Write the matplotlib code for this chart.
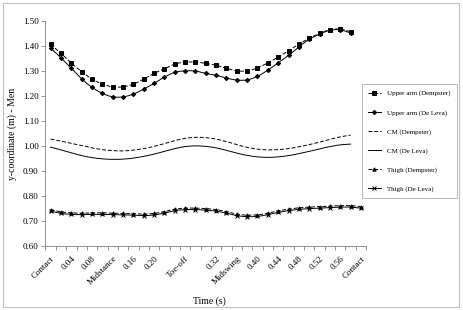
import numpy as np
import matplotlib
matplotlib.use('Agg')
import matplotlib.pyplot as plt
from matplotlib.patches import Rectangle

plt.rcParams['font.family'] = ['Liberation Serif', 'DejaVu Serif']

# categories: 0.00 .. 0.60 s, step 0.02 (31 categories)
tick_pos = [0, 2, 4, 6, 8, 10, 13, 16, 18, 20, 22, 24, 26, 28, 30]
tick_labels = ['Contact', '0.04', '0.08', 'Midstance', '0.16', '0.20', 'Toe-off',
               '0.32', 'Midswing', '0.40', '0.44', '0.48', '0.52', '0.56', 'Contact']
n_cat = 31

arm_dempster = [1.407, 1.371, 1.332, 1.298, 1.268, 1.248, 1.237, 1.237, 1.248, 1.268,
                1.291, 1.309, 1.328, 1.336, 1.336, 1.331, 1.323, 1.311, 1.301, 1.301,
                1.313, 1.333, 1.356, 1.381, 1.408, 1.431, 1.451, 1.465, 1.468, 1.457]
arm_deleva = [1.392, 1.353, 1.311, 1.269, 1.235, 1.211, 1.197, 1.197, 1.208, 1.228,
              1.251, 1.276, 1.295, 1.301, 1.300, 1.291, 1.283, 1.272, 1.264, 1.265,
              1.279, 1.304, 1.333, 1.363, 1.397, 1.427, 1.448, 1.463, 1.465, 1.452]
cm_dempster = [1.028, 1.020, 1.011, 1.002, 0.993, 0.986, 0.982, 0.981, 0.984, 0.990,
               0.999, 1.010, 1.022, 1.031, 1.035, 1.034, 1.028, 1.018, 1.006, 0.995,
               0.988, 0.985, 0.986, 0.990, 0.997, 1.006, 1.016, 1.027, 1.037, 1.044]
cm_deleva = [0.996, 0.985, 0.973, 0.962, 0.954, 0.949, 0.947, 0.948, 0.952, 0.959,
             0.968, 0.979, 0.990, 0.998, 1.001, 0.999, 0.993, 0.983, 0.972, 0.963,
             0.957, 0.955, 0.957, 0.962, 0.970, 0.979, 0.989, 0.998, 1.005, 1.008]
thigh_dempster = [0.745, 0.737, 0.733, 0.732, 0.733, 0.733, 0.732, 0.731, 0.730, 0.728,
                  0.731, 0.738, 0.748, 0.752, 0.752, 0.750, 0.746, 0.738, 0.728, 0.724,
                  0.725, 0.732, 0.741, 0.748, 0.753, 0.756, 0.758, 0.760, 0.762, 0.762, 0.758]
thigh_deleva = [0.740, 0.731, 0.727, 0.726, 0.727, 0.727, 0.726, 0.725, 0.724, 0.722,
                0.725, 0.732, 0.742, 0.746, 0.746, 0.744, 0.740, 0.732, 0.722, 0.718,
                0.719, 0.726, 0.735, 0.742, 0.747, 0.750, 0.752, 0.754, 0.756, 0.756, 0.752]


def smooth(y, k=8):
    # Catmull-Rom curve through the points (like Excel's smoothed line)
    y = np.asarray(y, float)
    x = np.arange(len(y), dtype=float)
    p = np.concatenate([[y[0]], y, [y[-1]]])
    q = np.concatenate([[x[0]], x, [x[-1]]])
    xs, ys = [], []
    t = np.linspace(0, 1, k, endpoint=False)
    for i in range(len(y) - 1):
        for arr, out in ((q, xs), (p, ys)):
            p0, p1, p2, p3 = arr[i], arr[i + 1], arr[i + 2], arr[i + 3]
            out.extend(0.5 * (2 * p1 + (-p0 + p2) * t + (2 * p0 - 5 * p1 + 4 * p2 - p3) * t ** 2
                              + (-p0 + 3 * p1 - 3 * p2 + p3) * t ** 3))
    xs.append(x[-1]); ys.append(y[-1])
    return np.array(xs), np.array(ys)


fig = plt.figure(figsize=(4.64, 3.10), dpi=100)
ax = fig.add_axes([0.098, 0.206, 0.691, 0.726])

series = [
    (arm_dempster, 'Upper arm (Dempster)', (0, (4, 2)), 's', 3.4),
    (arm_deleva, 'Upper arm (De Leva)', '-', 'D', 2.2),
    (cm_dempster, 'CM (Dempster)', (0, (4, 2)), None, 0),
    (cm_deleva, 'CM (De Leva)', '-', None, 0),
    (thigh_dempster, 'Thigh (Dempster)', (0, (4, 2)), '^', 2.4),
    (thigh_deleva, 'Thigh (De Leva)', '-', 'x', 2.6),
]

handles = []
for vals, label, ls, mk, ms in series:
    sx, sy = smooth(vals)
    ax.plot(sx, sy, color='black', lw=0.7, linestyle=ls)
    ax.plot(np.arange(len(vals)), vals, linestyle='none', marker=mk, ms=ms,
            color='black', mew=0.7)
    h, = ax.plot([], [], color='black', lw=0.7, linestyle=ls, marker=mk, ms=ms, mew=0.7)
    handles.append((h, label))

ax.set_xlim(-0.5, n_cat - 0.5)
ax.set_ylim(0.60, 1.50)
ax.set_yticks(np.arange(0.60, 1.501, 0.10))
ax.set_yticklabels(['%.2f' % v for v in np.arange(0.60, 1.501, 0.10)], fontsize=6.5)
ax.set_xticks(tick_pos)
ax.set_xticklabels(tick_labels, rotation=45, ha='right', rotation_mode='anchor', fontsize=6.5)
ax.tick_params(axis='x', length=0, pad=6)
ax.set_xticks(np.arange(-0.5, n_cat, 1), minor=True)
ax.tick_params(axis='x', which='minor', length=3, color='#808080', width=0.6)
ax.tick_params(axis='y', length=3, color='#808080', width=0.6, pad=2)
for s in ['top', 'right']:
    ax.spines[s].set_visible(False)
for s in ['left', 'bottom']:
    ax.spines[s].set_color('#808080')
    ax.spines[s].set_linewidth(0.6)

ax.set_xlabel('Time (s)', fontsize=7)
ax.xaxis.set_label_coords(0.51, -0.222)
ax.set_ylabel('y-coordinate (m) - Men', fontsize=7, labelpad=4)

leg = fig.legend([h for h, _ in handles], [l for _, l in handles],
                 loc='upper left', bbox_to_anchor=(362 / 464, 1 - 84 / 310), fontsize=5.0,
                 frameon=True, fancybox=False, edgecolor='#999999',
                 labelspacing=1.85, handlelength=1.8, borderpad=0.9, handletextpad=0.9,
                 borderaxespad=0)
leg.get_frame().set_linewidth(0.6)

fig.patches.append(Rectangle((3 / 464, 3 / 310), 456 / 464, 304 / 310, transform=fig.transFigure,
                             fill=False, edgecolor='#c0c0c0', lw=0.8))

fig.savefig('out.png', dpi=100)
